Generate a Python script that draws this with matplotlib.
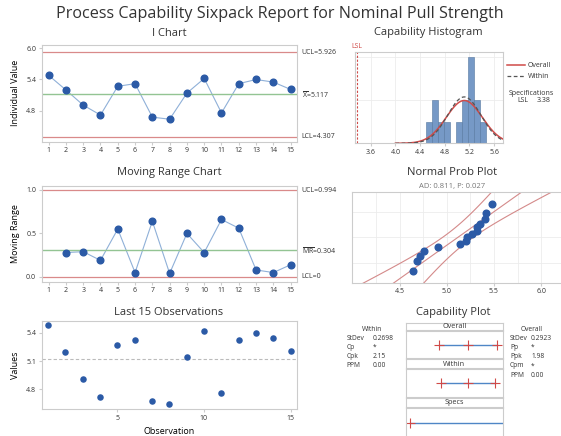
"""Process capability sixpack for nominal pull strength (Minitab-style layout)."""

from statistics import NormalDist

import matplotlib
import numpy as np

matplotlib.use("Agg")
import matplotlib.pyplot as plt
from matplotlib.lines import Line2D

# --- data ---------------------------------------------------------------------
obs = [5.48, 5.20, 4.91, 4.72, 5.27, 5.32, 4.68, 4.64, 5.14, 5.42,
       4.76, 5.32, 5.40, 5.35, 5.21]
hist_centers = [4.55, 4.65, 4.74, 4.84, 4.93, 5.03, 5.13, 5.22, 5.32, 5.42]
hist_counts = [1, 2, 1, 1, 0, 1, 2, 4, 2, 1]
HIST_W = 0.097

XBAR, UCL, LCL = 5.117, 5.926, 4.307
MR_BAR, MR_UCL, MR_LCL = 0.304, 0.994, 0.0
LSL = 3.38
SD_WITHIN, SD_OVERALL = 0.2698, 0.2923
AD_TEXT = "AD: 0.811, P: 0.027"
within_stats = [("StDev", "0.2698"), ("Cp", "*"), ("Cpk", "2.15"), ("PPM", "0.00")]
overall_stats = [("StDev", "0.2923"), ("Pp", "*"), ("Ppk", "1.98"),
                 ("Cpm", "*"), ("PPM", "0.00")]

# --- style --------------------------------------------------------------------
BLUE, LBLUE = "#2b5aa6", "#8fb0d8"
LIMIT, CENTER = "#d98a8a", "#93c493"
FRAME, INK, MUTED, GRID = "#cccccc", "#333333", "#777777", "#ececec"
FONT = ["Open Sans", "DejaVu Sans"]

plt.rcParams.update({
    "font.family": FONT, "text.color": INK, "axes.edgecolor": FRAME,
    "axes.linewidth": 0.8, "xtick.color": FRAME, "ytick.color": FRAME,
    "xtick.labelcolor": INK, "ytick.labelcolor": INK,
    "xtick.labelsize": 5, "ytick.labelsize": 5,
    "xtick.major.size": 2, "ytick.major.size": 2,
    "xtick.major.pad": 2, "ytick.major.pad": 2,
    "mathtext.fontset": "custom", "mathtext.rm": "Open Sans",
})

W, H = 561, 436
fig = plt.figure(figsize=(W / 100, H / 100), dpi=100)


def box(l, t, r, b):
    return [l / W, 1 - b / H, (r - l) / W, (b - t) / H]


def ftext(x, y, s, **kw):
    kw.setdefault("ha", "center")
    kw.setdefault("va", "center")
    fig.text(x / W, 1 - y / H, s, **kw)


ftext(280, 14, "Process Capability Sixpack Report for Nominal Pull Strength",
      fontsize=11.6)

x = np.arange(1, len(obs) + 1)

# I chart
ax = fig.add_axes(box(41.7, 45, 296.7, 141.7))
ax.plot(x, obs, color=LBLUE, lw=0.8, zorder=2)
ax.plot(x, obs, "o", color=BLUE, ms=4.8, zorder=3)
ax.axhline(UCL, color=LIMIT, lw=0.9)
ax.axhline(LCL, color=LIMIT, lw=0.9)
ax.axhline(XBAR, color=CENTER, lw=1.0)
ax.set_xlim(0.6, 15.35)
ax.set_ylim(4.21, 6.06)
ax.set_xticks(x)
ax.set_yticks([4.8, 5.4, 6.0])
ax.set_ylabel("Individual Value", fontsize=6.5, labelpad=4)
tr = ax.get_yaxis_transform()
ax.text(1.02, UCL, f"UCL={UCL:.3f}", transform=tr, fontsize=5, va="center")
ax.text(1.02, XBAR, r"$\overline{\mathrm{X}}$" + f"={XBAR:.3f}", transform=tr,
        fontsize=5, va="center")
ax.text(1.02, LCL, f"LCL={LCL:.3f}", transform=tr, fontsize=5, va="center")
ftext(169, 33, "I Chart", fontsize=8)

# Moving range chart
mr = np.abs(np.diff(obs))
ax = fig.add_axes(box(41.7, 186, 296.7, 281.7))
ax.plot(x[1:], mr, color=LBLUE, lw=0.8, zorder=2)
ax.plot(x[1:], mr, "o", color=BLUE, ms=4.8, zorder=3)
ax.axhline(MR_UCL, color=LIMIT, lw=0.9)
ax.axhline(MR_LCL, color=LIMIT, lw=0.9)
ax.axhline(MR_BAR, color=CENTER, lw=1.0)
ax.set_xlim(0.6, 15.35)
ax.set_ylim(-0.055, 1.045)
ax.set_xticks(x)
ax.set_yticks([0.0, 0.5, 1.0])
ax.set_ylabel("Moving Range", fontsize=6.5, labelpad=4)
tr = ax.get_yaxis_transform()
ax.text(1.02, MR_UCL, f"UCL={MR_UCL:.3f}", transform=tr, fontsize=5, va="center")
ax.text(1.02, MR_BAR, r"$\overline{\mathrm{MR}}$" + f"={MR_BAR:.3f}",
        transform=tr, fontsize=5, va="center")
ax.text(1.02, MR_LCL, f"LCL={MR_LCL:g}", transform=tr, fontsize=5, va="center")
ftext(169, 172.7, "Moving Range Chart", fontsize=8)

# Last 15 observations
ax = fig.add_axes(box(41.7, 320.7, 296.7, 409))
ax.axhline(XBAR, color="#bbbbbb", lw=0.8, ls=(0, (3, 2)))
ax.scatter(x, obs, s=22, color=BLUE, zorder=3, linewidths=0)
ax.set_xlim(0.64, 15.35)
ax.set_ylim(4.59, 5.53)
ax.set_xticks([5, 10, 15])
ax.set_yticks([4.8, 5.1, 5.4])
ax.set_ylabel("Values", fontsize=6.5, labelpad=4)
ax.set_xlabel("Observation", fontsize=6.5, labelpad=4)
ftext(169, 312.7, "Last 15 Observations", fontsize=8)

# Capability histogram
ax = fig.add_axes(box(355, 51.7, 502.7, 143.3))
ax.bar(hist_centers, hist_counts, width=HIST_W, color="#7699c6",
       edgecolor="#55779f", lw=0.4, zorder=2)
xs = np.linspace(4.0, 5.74, 200)
scale = sum(hist_counts) * HIST_W
ax.plot(xs, [scale * NormalDist(XBAR, SD_OVERALL).pdf(v) for v in xs],
        color="#d04a48", lw=1.1, zorder=3)
ax.plot(xs, [scale * NormalDist(XBAR, SD_WITHIN).pdf(v) for v in xs],
        color="#555555", lw=0.9, ls=(0, (3, 2)), zorder=3)
ax.axvline(LSL, color="#d04a48", lw=0.8, ls=(0, (2, 1.5)))
ax.set_xlim(3.345, 5.74)
ax.set_ylim(0, 4.25)
ax.set_xticks(np.arange(3.6, 5.7, 0.4))
ax.set_xticklabels([f"{v:.1f}" for v in np.arange(3.6, 5.7, 0.4)])
ax.set_yticks([2, 4])
ax.tick_params(axis="y", left=False, labelleft=False)
ax.grid(True, color=GRID, lw=0.6, zorder=0)
ax.text(LSL, 1.02, "LSL", transform=ax.get_xaxis_transform(), color="#d04a48",
        fontsize=5, ha="center", va="bottom")
handles = [Line2D([], [], color="#d04a48", lw=1.1),
           Line2D([], [], color="#555555", lw=0.9, ls=(0, (3, 2)))]
ax.legend(handles, ["Overall", "Within"], loc="upper left",
          bbox_to_anchor=(1.0, 0.93), frameon=False, fontsize=5,
          handlelength=2.6, handletextpad=0.4, labelspacing=0.6, borderaxespad=0.2)
ftext(531, 93.3, "Specifications", fontsize=5)
ftext(517, 100, "LSL", fontsize=5, ha="left")
ftext(537, 100, f"{LSL:.2f}", fontsize=5, ha="left")
ftext(428.5, 33, "Capability Histogram", fontsize=8)

# Normal probability plot
nd = NormalDist()
srt = np.sort(obs)
n = len(srt)
zq = [nd.inv_cdf((i - 0.3) / (n + 0.4)) for i in range(1, n + 1)]
ax = fig.add_axes(box(352.3, 191.7, 562, 282.7))
zz = np.linspace(-2.5, 2.5, 100)
t95 = 2.145
se = SD_OVERALL * np.sqrt(1 / n + zz ** 2 / (2 * (n - 1)))
fit = XBAR + SD_OVERALL * zz
for xx in (fit, fit - t95 * se, fit + t95 * se):
    ax.plot(xx, zz, color="#d48a8a", lw=0.8, zorder=2)
ax.plot(srt, zq, "o", color=BLUE, ms=4.8, zorder=3)
ax.set_xlim(4.0, 6.22)
ax.set_ylim(-2.31, 2.33)
ax.set_xticks([4.5, 5.0, 5.5, 6.0])
ax.set_xticks(np.arange(4.25, 6.1, 0.25), minor=True)
ax.tick_params(axis="x", which="minor", length=0)
ax.set_yticks([nd.inv_cdf(p) for p in (0.1, 0.5, 0.9)])
ax.tick_params(axis="y", left=False, labelleft=False)
ax.grid(True, which="both", color=GRID, lw=0.6, zorder=0)
ftext(452, 172.7, "Normal Prob Plot", fontsize=8)
ftext(452, 186, AD_TEXT, fontsize=5.5, color=MUTED)

# Capability plot
ftext(453, 313, "Capability Plot", fontsize=8)
CAP_X = (3.26, 6.17)
rows = [("Overall", 322.7, 330.3, 331, 358.3, SD_OVERALL),
        ("Within", 359.3, 368.3, 369.3, 396.7, SD_WITHIN),
        ("Specs", 397.7, 407.3, 408.3, 437, None)]
for name, ht, hb, pt, pb, sd in rows:
    hx = fig.add_axes(box(406, ht, 502.7, hb))
    hx.set_xticks([])
    hx.set_yticks([])
    hx.text(0.5, 0.45, name, transform=hx.transAxes, fontsize=5.2,
            ha="center", va="center")
    px = fig.add_axes(box(406, pt, 502.7, pb))
    px.set_xticks([])
    px.set_yticks([])
    px.set_xlim(*CAP_X)
    px.set_ylim(0, 1)
    if sd is not None:
        pts = [XBAR - 3 * sd, XBAR, XBAR + 3 * sd]
        px.plot([pts[0], pts[-1]], [0.5, 0.5], color="#4f86c6", lw=1.0)
        px.plot(pts, [0.5] * 3, "+", color="#d04a48", ms=7, mew=0.8)
    else:
        px.plot([LSL, CAP_X[1]], [0.5, 0.5], color="#4f86c6", lw=1.0)
        px.plot([LSL], [0.5], "+", color="#d04a48", ms=7, mew=0.8)

STAT_FS = 4.8
ftext(372, 329.3, "Within", fontsize=STAT_FS)
for i, (k, v) in enumerate(within_stats):
    ftext(346.7, 338.3 + 9.2 * i, k, fontsize=STAT_FS, ha="left")
    ftext(372.7, 338.3 + 9.2 * i, v, fontsize=STAT_FS, ha="left")
ftext(531.7, 329.3, "Overall", fontsize=STAT_FS)
for i, (k, v) in enumerate(overall_stats):
    ftext(510, 338.3 + 9.2 * i, k, fontsize=STAT_FS, ha="left")
    ftext(531, 338.3 + 9.2 * i, v, fontsize=STAT_FS, ha="left")

fig.savefig("out.png", dpi=100)
